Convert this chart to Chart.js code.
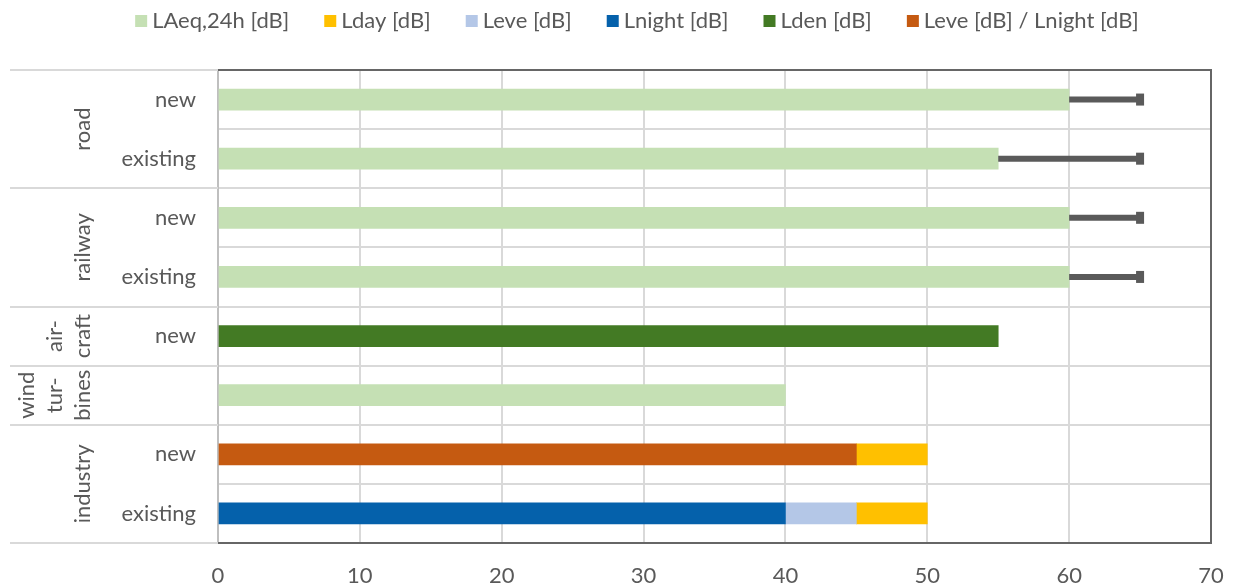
<!DOCTYPE html>
<html>
<head>
<meta charset="utf-8">
<script src="https://cdn.jsdelivr.net/npm/chart.js@4"></script>
<style>
  body { margin: 0; background: #fff; }
  #wrap { width: 1234px; height: 584px; position: relative; }
</style>
</head>
<body>
<div id="wrap"><canvas id="grafico"></canvas></div>
<script>
// rows from top to bottom
const rowLabels = ["new", "existing", "new", "existing", "new", "", "new", "existing"];
const groupNames = [["road"], ["railway"], ["air-", "craft"], ["wind", "tur-", "bines"], ["industry"]];
const groupSizes = [2, 2, 1, 1, 2];

const laeq = [60, 55, 60, 60, null, 40, null, null];
const lden = [null, null, null, null, 55, null, null, null];
const leveNight = [null, null, null, null, null, null, 45, null];
const lnight = [null, null, null, null, null, null, null, 40];
const leve = [null, null, null, null, null, null, null, 5];
const lday = [null, null, null, null, null, null, 5, 5];
// upper end of the range whiskers
const errorTo = [65, 65, 65, 65, null, null, null, null];

const xTicks = [0, 10, 20, 30, 40, 50, 60, 70];
const legendOrder = ["LAeq,24h [dB]", "Lday [dB]", "Leve [dB]", "Lnight [dB]", "Lden [dB]", "Leve [dB] / Lnight [dB]"];

const FONT = "Lato, 'Noto Sans', sans-serif";
const FSIZE = 22;
const TXT = "#595959";
const GRID = "#d9d9d9";

// custom legend, boxes and text drawn in legendOrder
const leyenda = {
  id: "leyenda",
  afterDraw(chart) {
    const ctx = chart.ctx;
    ctx.save();
    ctx.font = FSIZE + "px " + FONT;
    ctx.textBaseline = "middle";
    const items = legendOrder.map(t => chart.data.datasets.find(d => d.label === t));
    const gap = 35, box = 12, tg = 5;
    let total = 0;
    items.forEach(d => { total += box + tg + ctx.measureText(d.label).width; });
    total += gap * (items.length - 1);
    let x = 637 - total / 2;
    const y = 21;
    items.forEach(d => {
      ctx.fillStyle = d.backgroundColor;
      ctx.fillRect(x, y - box / 2, box, box);
      x += box + tg;
      ctx.fillStyle = TXT;
      ctx.fillText(d.label, x, y);
      x += ctx.measureText(d.label).width + gap;
    });
    ctx.restore();
  }
};

// group labels on the left and the lines separating the groups
const grupos = {
  id: "grupos",
  afterDraw(chart) {
    const ctx = chart.ctx;
    const ys = chart.scales.y;
    const area = chart.chartArea;
    ctx.save();
    ctx.strokeStyle = GRID;
    ctx.lineWidth = 2;
    let start = 0;
    const bounds = [0];
    groupSizes.forEach(n => { start += n; bounds.push(start); });
    bounds.forEach(b => {
      const y = Math.round(ys.getPixelForValue(b - 0.5));
      ctx.beginPath();
      ctx.moveTo(10, y);
      ctx.lineTo(area.left, y);
      ctx.stroke();
    });
    ctx.font = FSIZE + "px " + FONT;
    ctx.fillStyle = TXT;
    ctx.textAlign = "center";
    ctx.textBaseline = "middle";
    groupNames.forEach((lines, g) => {
      const y0 = ys.getPixelForValue(bounds[g] - 0.5);
      const y1 = ys.getPixelForValue(bounds[g + 1] - 0.5);
      const yc = (y0 + y1) / 2;
      lines.forEach((txt, i) => {
        const x = 83 - (lines.length - 1 - i) * 28;
        ctx.save();
        ctx.translate(x, yc);
        ctx.rotate(-Math.PI / 2);
        ctx.fillText(txt, 0, 0);
        ctx.restore();
      });
    });
    ctx.restore();
  }
};

// whiskers from the bar end up to errorTo, plus dark frame on top/right/bottom
const bigotes = {
  id: "bigotes",
  afterDatasetsDraw(chart) {
    const ctx = chart.ctx;
    const xs = chart.scales.x, ys = chart.scales.y;
    const area = chart.chartArea;
    ctx.save();
    ctx.strokeStyle = "#5a5a5a";
    ctx.fillStyle = "#5a5a5a";
    ctx.lineWidth = 6;
    errorTo.forEach((to, i) => {
      if (to === null) return;
      let total = 0;
      chart.data.datasets.forEach(d => { total += d.data[i] || 0; });
      const y = ys.getPixelForValue(i);
      const x0 = xs.getPixelForValue(total);
      const x1 = xs.getPixelForValue(to);
      ctx.beginPath();
      ctx.moveTo(x0, y);
      ctx.lineTo(x1, y);
      ctx.stroke();
      ctx.fillRect(x1 - 4, y - 6, 8, 12);
    });
    ctx.strokeStyle = "#666666";
    ctx.lineWidth = 2;
    ctx.beginPath();
    ctx.moveTo(area.left, area.top);
    ctx.lineTo(area.right, area.top);
    ctx.lineTo(area.right, area.bottom);
    ctx.lineTo(area.left, area.bottom);
    ctx.stroke();
    ctx.restore();
  }
};

function serie(label, data, color) {
  return { label, data, backgroundColor: color, borderWidth: 0, barThickness: 21 };
}

new Chart(document.getElementById("grafico"), {
  type: "bar",
  data: {
    labels: rowLabels,
    // stacking order: base series first
    datasets: [
      serie("LAeq,24h [dB]", laeq, "#c5e0b4"),
      serie("Lden [dB]", lden, "#437a24"),
      serie("Leve [dB] / Lnight [dB]", leveNight, "#c55a11"),
      serie("Lnight [dB]", lnight, "#0561ab"),
      serie("Leve [dB]", leve, "#b4c7e7"),
      serie("Lday [dB]", lday, "#ffc000"),
    ],
  },
  options: {
    indexAxis: "y",
    responsive: true,
    maintainAspectRatio: false,
    animation: false,
    layout: { padding: { left: 10, right: 23, top: 70, bottom: 0 } },
    plugins: {
      legend: { display: false },
      tooltip: { enabled: false },
    },
    scales: {
      x: {
        stacked: true,
        min: 0,
        max: 70,
        afterBuildTicks(axis) { axis.ticks = xTicks.map(v => ({ value: v })); },
        afterFit(axis) {
          axis.height = 41;
          axis.paddingLeft = 0;
          axis.paddingRight = 0;
        },
        grid: { color: GRID, lineWidth: 2, drawTicks: false },
        border: { display: false },
        ticks: { color: TXT, font: { family: FONT, size: FSIZE }, padding: 20 },
      },
      y: {
        stacked: true,
        afterFit(axis) {
          axis.width = 208;
          axis.paddingTop = 0;
          axis.paddingBottom = 0;
        },
        grid: { offset: true, color: GRID, lineWidth: 2, drawTicks: false },
        border: { color: "#bfbfbf", width: 2 },
        ticks: { color: TXT, font: { family: FONT, size: FSIZE }, padding: 22 },
      },
    },
  },
  plugins: [leyenda, grupos, bigotes],
});
</script>
</body>
</html>
